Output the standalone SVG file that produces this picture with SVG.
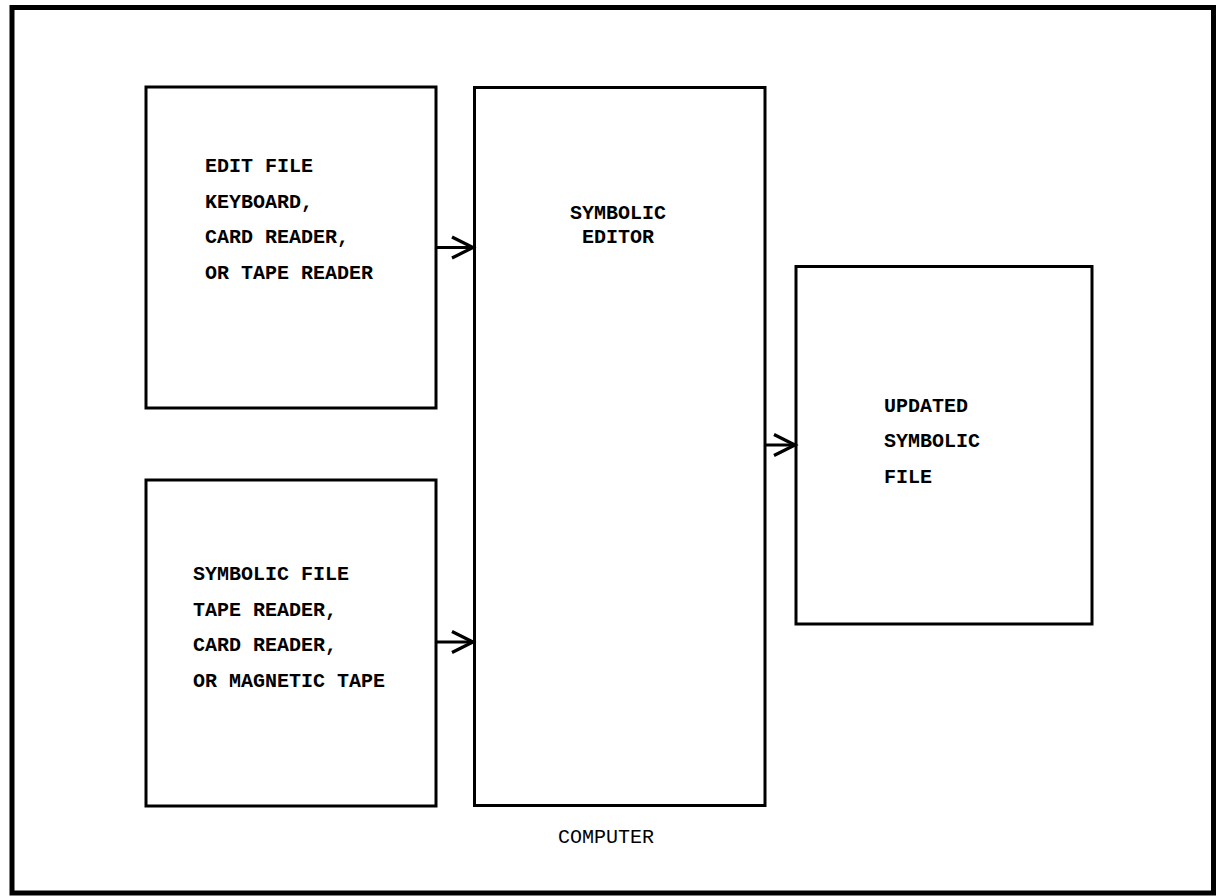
<svg xmlns="http://www.w3.org/2000/svg" width="1218" height="896" viewBox="0 0 1218 896">
<style>
.box{fill:#fff;stroke:#000;stroke-width:3}
.t{font-family:"Liberation Mono","Courier New",monospace;font-size:20px;font-weight:bold;fill:#000}
.c{font-family:"Liberation Mono","Courier New",monospace;font-size:20px;fill:#000}
.ln{fill:none;stroke:#000;stroke-width:3}
</style>
<defs>
<marker id="arr" markerUnits="userSpaceOnUse" markerWidth="30" markerHeight="30" viewBox="-25 -15 30 30" refX="0" refY="0" orient="auto">
<path d="M-21,-10.5 L0,0 L-21,10.5" fill="none" stroke="#000" stroke-width="3.2" stroke-linejoin="miter"/>
</marker>
</defs>
<rect x="0" y="0" width="1218" height="896" fill="#fff"/>
<rect x="12" y="7.5" width="1201.5" height="885.5" fill="none" stroke="#000" stroke-width="5"/>
<g id="edit-file">
<rect class="box" x="146" y="87" width="290" height="321"/>
<text class="t" x="205" y="172">EDIT FILE</text>
<text class="t" x="205" y="207.5">KEYBOARD,</text>
<text class="t" x="205" y="243">CARD READER,</text>
<text class="t" x="205" y="278.5">OR TAPE READER</text>
</g>
<g id="symbolic-file">
<rect class="box" x="146" y="480" width="290" height="326"/>
<text class="t" x="193" y="580">SYMBOLIC FILE</text>
<text class="t" x="193" y="615.5">TAPE READER,</text>
<text class="t" x="193" y="651">CARD READER,</text>
<text class="t" x="193" y="686.5">OR MAGNETIC TAPE</text>
</g>
<g id="symbolic-editor">
<rect class="box" x="474.5" y="87.5" width="290.5" height="718"/>
<text class="t" x="618" y="219" text-anchor="middle">SYMBOLIC</text>
<text class="t" x="618" y="243" text-anchor="middle">EDITOR</text>
</g>
<g id="updated-file">
<rect class="box" x="796" y="266.5" width="296" height="357.5"/>
<text class="t" x="884" y="412">UPDATED</text>
<text class="t" x="884" y="447">SYMBOLIC</text>
<text class="t" x="884" y="483">FILE</text>
</g>
<g id="computer-label">
<text class="c" x="606" y="843" text-anchor="middle">COMPUTER</text>
</g>
<g id="connectors">
<line class="ln" x1="436" y1="247.5" x2="473" y2="247.5" marker-end="url(#arr)"/>
<line class="ln" x1="436" y1="642" x2="473" y2="642" marker-end="url(#arr)"/>
<line class="ln" x1="765" y1="445" x2="795" y2="445" marker-end="url(#arr)"/>
</g>
</svg>
